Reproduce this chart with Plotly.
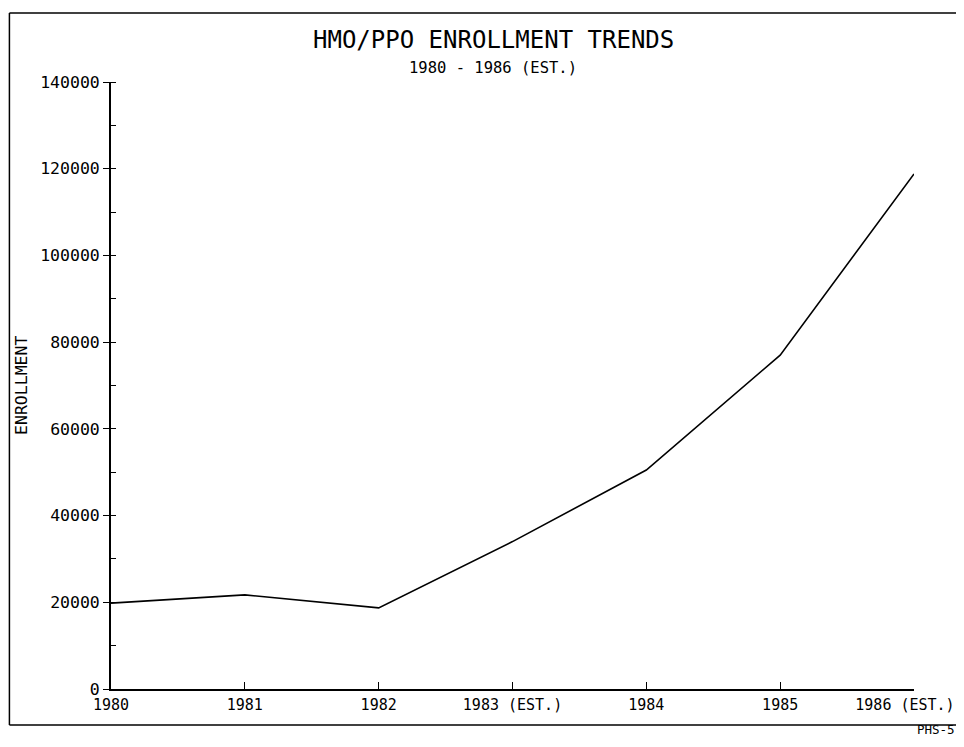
import plotly.graph_objects as go

years = [1980, 1981, 1982, 1983, 1984, 1985, 1986]
# trailing no-break spaces nudge the last label left so it is not cut at the edge
year_labels = ['1980', '1981', '1982', '1983 (EST.)', '1984', '1985', '1986 (EST.)\u00a0\u00a0']
enrollment = [19800, 21700, 18700, 34000, 50500, 77000, 118800]
y_ticks = [0, 20000, 40000, 60000, 80000, 100000, 120000, 140000]

FONT = 'DejaVu Sans Mono'

fig = go.Figure()
fig.add_trace(go.Scatter(
    x=years,
    y=enrollment,
    mode='lines',
    line=dict(color='black', width=1.6),
    showlegend=False,
    hoverinfo='skip'
))

# the page body adds an 8px margin around the figure
fig.update_layout(
    width=956,
    height=731,
    margin=dict(l=103, r=50, t=74, b=50, autoexpand=False),
    paper_bgcolor='white',
    plot_bgcolor='white',
    font=dict(family=FONT, color='black'),
    xaxis=dict(
        range=[1980, 1986],
        tickvals=years,
        ticktext=year_labels,
        showgrid=False,
        zeroline=False,
        showline=True,
        linecolor='black',
        linewidth=1.6,
        ticks='inside',
        ticklen=7,
        tickcolor='black',
        tickwidth=1.4,
        ticklabelstandoff=1,
        ticklabeloverflow='allow',
        automargin=False,
        tickfont=dict(family=FONT, size=15, color='black'),
    ),
    yaxis=dict(
        range=[0, 140000],
        tickvals=y_ticks,
        ticktext=[str(v) for v in y_ticks],
        showgrid=False,
        zeroline=False,
        showline=True,
        linecolor='black',
        linewidth=1.8,
        ticks='outside',
        ticklen=6,
        tickcolor='black',
        tickwidth=1.2,
        minor=dict(ticks='inside', ticklen=5, dtick=10000, tickcolor='black', tickwidth=1.2),
        ticklabelstandoff=0,
        automargin=False,
        tickfont=dict(family=FONT, size=16.5, color='black'),
    ),
)

# page border of the original plotter sheet (no right edge visible)
border = dict(color='black', width=1.5)
fig.add_shape(type='line', xref='paper', yref='paper', x0=-0.1265, x1=1.07, y0=1.1137, y1=1.1137, line=border)
fig.add_shape(type='line', xref='paper', yref='paper', x0=-0.1265, x1=-0.1265, y0=1.1137, y1=-0.0593, line=border)
fig.add_shape(type='line', xref='paper', yref='paper', x0=-0.1265, x1=1.07, y0=-0.0593, y1=-0.0593, line=border)

fig.add_annotation(text='HMO/PPO ENROLLMENT TRENDS', xref='paper', yref='paper',
                   x=0.4763, y=1.0692, xanchor='center', yanchor='middle', showarrow=False,
                   font=dict(family=FONT, size=24, color='black'))
fig.add_annotation(text='1980 - 1986 (EST.)', xref='paper', yref='paper',
                   x=0.4751, y=1.0231, xanchor='center', yanchor='middle', showarrow=False,
                   font=dict(family=FONT, size=15.5, color='black'))
fig.add_annotation(text='ENROLLMENT', xref='paper', yref='paper',
                   x=-0.1115, y=0.50, xanchor='center', yanchor='middle', textangle=-90, showarrow=False,
                   font=dict(family=FONT, size=16.5, color='black'))
fig.add_annotation(text='PHS-5', xref='paper', yref='paper',
                   x=1.0274, y=-0.0665, xanchor='center', yanchor='middle', showarrow=False,
                   font=dict(family=FONT, size=12.5, color='black'))

fig.write_html("out.html")
